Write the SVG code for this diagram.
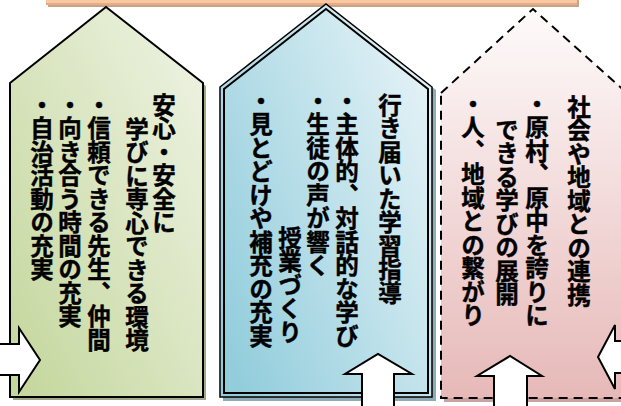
<svg xmlns="http://www.w3.org/2000/svg" width="621" height="406" viewBox="0 0 621 406">
<defs>
<linearGradient id="gGreen" x1="0" y1="1" x2="1" y2="0">
<stop offset="0" stop-color="#c3d69b"/>
<stop offset="1" stop-color="#f0f4e6"/>
</linearGradient>
<linearGradient id="gBlue" x1="0" y1="0.85" x2="1" y2="0.15">
<stop offset="0" stop-color="#92cddc"/>
<stop offset="1" stop-color="#e6f3f7"/>
</linearGradient>
<linearGradient id="gPink" x1="0" y1="0" x2="0" y2="1">
<stop offset="0" stop-color="#fefbfb"/>
<stop offset="1" stop-color="#e6b9b8"/>
</linearGradient>
</defs>
<style>
.vt{writing-mode:vertical-rl;font-family:"Liberation Sans","Noto Sans CJK JP",sans-serif;font-weight:bold;font-size:23.5px;fill:#000;stroke:#000;stroke-width:0.45px}
.ln{fill:none;stroke:#000;stroke-linejoin:miter}
.arr{fill:#fff;stroke:#000;stroke-width:2;stroke-linejoin:miter}
</style>
<rect width="621" height="406" fill="#fff"/>

<g id="topbar">
<rect x="48" y="-4" width="531" height="11" fill="#c8a38a"/>
<rect x="46" y="-6" width="531" height="11" fill="#f9c7a0"/>
<rect x="46" y="3" width="531" height="2" fill="#e6ad84"/>
</g>

<g id="node-left">
<path d="M13,86 L109,10 L206,86 V400 H13 Z" fill="#9fa98a"/>
<path d="M10,83 L106,7 L203,83 V397 H10 Z" fill="url(#gGreen)" stroke="#000" stroke-width="2"/>
<text class="vt" x="162" y="93">安心・安全に</text>
<text class="vt" x="135" y="117">学びに専心できる環境</text>
<text class="vt" x="97" y="93">・信頼できる先生、仲間</text>
<text class="vt" x="68" y="93">・向き合う時間の充実</text>
<text class="vt" x="40" y="93">・自治活動の充実</text>
</g>

<g id="node-center">
<path d="M223,90 L329,7 L436,90 V401 H223 Z" fill="#8fabb6"/>
<path d="M220,87 L326,4 L432,87 V397 H220 Z" fill="url(#gBlue)" stroke="#000" stroke-width="1.5"/>
<path d="M224,89 L326,9 L428,89 V393 H224 Z" class="ln" stroke-width="2"/>
<text class="vt" x="388" y="93">行き届いた学習指導</text>
<text class="vt" x="345" y="89">・主体的、対話的な学び</text>
<text class="vt" x="316" y="89">・生徒の声が響く</text>
<text class="vt" x="288" y="226">授業づくり</text>
<text class="vt" x="259" y="89">・見とどけや補充の充実</text>
</g>

<g id="node-right">
<path d="M444,96 L536,13 L630,96 V402 H444 Z" fill="#c9a2a1"/>
<path d="M441,93 L533,9 L627,93 V398 H441 Z" fill="url(#gPink)" stroke="#000" stroke-width="2" stroke-dasharray="9,6"/>
<text class="vt" x="577" y="95">社会や地域との連携</text>
<text class="vt" x="535" y="92">・原村、原中を誇りに</text>
<text class="vt" x="505" y="118">できる学びの展開</text>
<text class="vt" x="471" y="92">・人、地域との繋がり</text>
</g>

<g id="connectors">
<path class="arr" d="M-2,344 H19 V328 L40,360 L19,392 V375 H-2"/>
<path class="arr" d="M362,408 V374 H345 L378,354 L412,374 H394 V408"/>
<path class="arr" d="M494,408 V376 H477 L510,356 L542,376 H527 V408"/>
<path class="arr" d="M623,341 H615 V325 L598,357 L615,389 V373 H623"/>
</g>
</svg>
